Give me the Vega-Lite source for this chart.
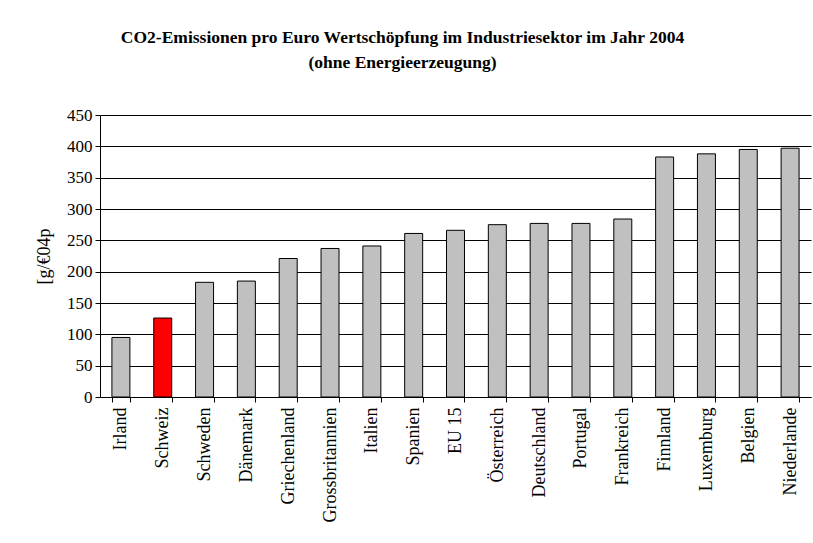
{
  "$schema": "https://vega.github.io/schema/vega-lite/v6.json",
  "width": 711,
  "height": 282,
  "autosize": {"type": "none"},
  "padding": {"left": 100, "top": 115, "right": 2, "bottom": 146},
  "background": "white",
  "title": {
    "text": ["CO2-Emissionen pro Euro Wertschöpfung im Industriesektor im Jahr 2004", "(ohne Energieerzeugung)"],
    "font": "Liberation Serif",
    "fontSize": 17.5,
    "fontWeight": "bold",
    "lineHeight": 25,
    "color": "black",
    "anchor": "middle",
    "dx": -53,
    "offset": 35
  },
  "data": {
    "values": [
      {"land": "Irland", "wert": 95, "hl": "n"},
      {"land": "Schweiz", "wert": 126, "hl": "y"},
      {"land": "Schweden", "wert": 183, "hl": "n"},
      {"land": "Dänemark", "wert": 185, "hl": "n"},
      {"land": "Griechenland", "wert": 221, "hl": "n"},
      {"land": "Grossbritannien", "wert": 237, "hl": "n"},
      {"land": "Italien", "wert": 241, "hl": "n"},
      {"land": "Spanien", "wert": 261, "hl": "n"},
      {"land": "EU 15", "wert": 266, "hl": "n"},
      {"land": "Österreich", "wert": 275, "hl": "n"},
      {"land": "Deutschland", "wert": 277, "hl": "n"},
      {"land": "Portugal", "wert": 277, "hl": "n"},
      {"land": "Frankreich", "wert": 284, "hl": "n"},
      {"land": "Finnland", "wert": 383, "hl": "n"},
      {"land": "Luxemburg", "wert": 388, "hl": "n"},
      {"land": "Belgien", "wert": 395, "hl": "n"},
      {"land": "Niederlande", "wert": 397, "hl": "n"}
    ]
  },
  "mark": {"type": "bar", "stroke": "black", "strokeWidth": 1},
  "encoding": {
    "x": {
      "field": "land",
      "type": "nominal",
      "sort": null,
      "scale": {"paddingInner": 0.57, "paddingOuter": 0.285},
      "axis": {
        "title": null,
        "labelAngle": -90,
        "labelAlign": "right",
        "labelBaseline": "middle",
        "labelFont": "Liberation Serif",
        "labelFontSize": 18,
        "labelColor": "black",
        "labelPadding": 5,
        "labelLimit": 200,
        "tickBand": "extent",
        "tickColor": "black",
        "tickSize": 5,
        "domainColor": "black",
        "grid": false
      }
    },
    "y": {
      "field": "wert",
      "type": "quantitative",
      "scale": {"domain": [0, 450], "nice": false},
      "axis": {
        "title": "[g/€04p",
        "titleFont": "Liberation Serif",
        "titleFontSize": 18,
        "titleFontWeight": "normal",
        "titleColor": "black",
        "titlePadding": 13,
        "values": [0, 50, 100, 150, 200, 250, 300, 350, 400, 450],
        "labelFont": "Liberation Serif",
        "labelFontSize": 17,
        "labelColor": "black",
        "labelPadding": 3,
        "tickColor": "black",
        "tickSize": 5,
        "domainColor": "black",
        "grid": true,
        "gridColor": "black",
        "gridOpacity": 1,
        "gridWidth": 1
      }
    },
    "color": {
      "field": "hl",
      "type": "nominal",
      "scale": {"domain": ["n", "y"], "range": ["#C0C0C0", "#FF0000"]},
      "legend": null
    }
  },
  "config": {"view": {"stroke": null}}
}
